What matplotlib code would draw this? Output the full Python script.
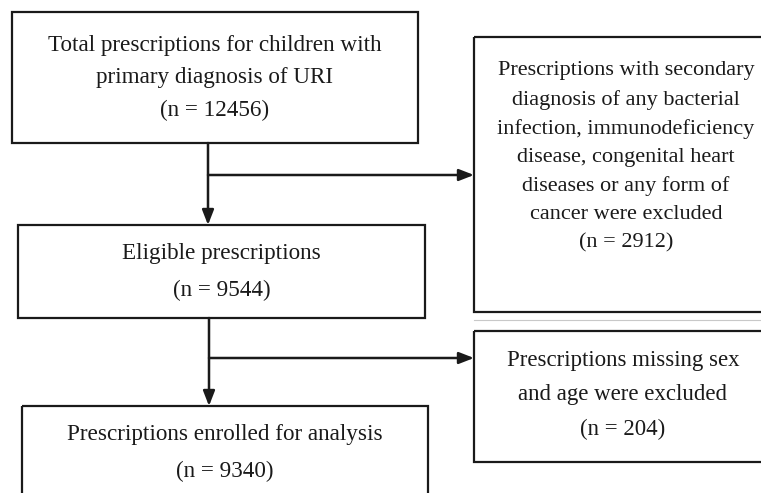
import matplotlib.pyplot as plt
from matplotlib.patches import Rectangle

# Flow chart content
main_labels = ['Total prescriptions for children with\nprimary diagnosis of URI',
               'Eligible prescriptions',
               'Prescriptions enrolled for analysis']
main_counts = [12456, 9544, 9340]
excluded_labels = ['Prescriptions with secondary\ndiagnosis of any bacterial\ninfection, immunodeficiency\n'
                   'disease, congenital heart\ndiseases or any form of\ncancer were excluded',
                   'Prescriptions missing sex\nand age were excluded']
excluded_counts = [2912, 204]

# Layout in pixel units (x0, y0, x1, y1), y downwards
main_boxes = [(12, 12, 418, 143), (18, 225, 425, 318), (22, 406, 428, 520)]
main_text_y = [78, 272, 453]
main_spacing = [1.70, 1.95, 1.95]
main_fs = 16.7
side_boxes = [(474, 37, 775, 312), (474, 331, 775, 462)]
side_text_y = [157, 395]
side_spacing = [1.64, 1.85]
side_fs = [16, 16.5]
side_cx = [626, 623]
arrow_x = [208, 209]
branch_y = [175, 358]

font = 'Liberation Serif'

fig = plt.figure(figsize=(7.61, 4.93), dpi=100)
ax = fig.add_axes([0, 0, 1, 1])
ax.set_xlim(0, 761)
ax.set_ylim(493, 0)
ax.axis('off')


def box(b, text, y, spacing, fs, cx=None):
    x0, y0, x1, y1 = b
    ax.add_patch(Rectangle((x0, y0), x1 - x0, y1 - y0, fill=False, ec='#1a1a1a', lw=1.6))
    if cx is None:
        cx = (x0 + x1) / 2
    ax.text(cx, y, text, ha='center', va='center', fontsize=fs, family=font,
            color='#1a1a1a', linespacing=spacing)


for i in range(len(main_labels)):
    box(main_boxes[i], main_labels[i] + '\n(n = %d)' % main_counts[i], main_text_y[i],
        main_spacing[i], main_fs)

for i in range(len(excluded_labels)):
    box(side_boxes[i], excluded_labels[i] + '\n(n = %d)' % excluded_counts[i], side_text_y[i],
        side_spacing[i], side_fs[i], cx=side_cx[i])

arrow_style = dict(arrowstyle='-|>,head_length=0.9,head_width=0.35', color='#1a1a1a', lw=1.8,
                   shrinkA=0, shrinkB=0)
for i in range(2):
    top = main_boxes[i][3]
    bottom = main_boxes[i + 1][1]
    ax.annotate('', xy=(arrow_x[i], bottom), xytext=(arrow_x[i], top), arrowprops=arrow_style)
    ax.annotate('', xy=(side_boxes[i][0], branch_y[i]), xytext=(arrow_x[i], branch_y[i]),
                arrowprops=arrow_style)

# faint scan line under the first exclusion box
ax.plot([474, 761], [320, 320], color='#c8c8c8', lw=0.8)

fig.savefig('out.png', dpi=100)
